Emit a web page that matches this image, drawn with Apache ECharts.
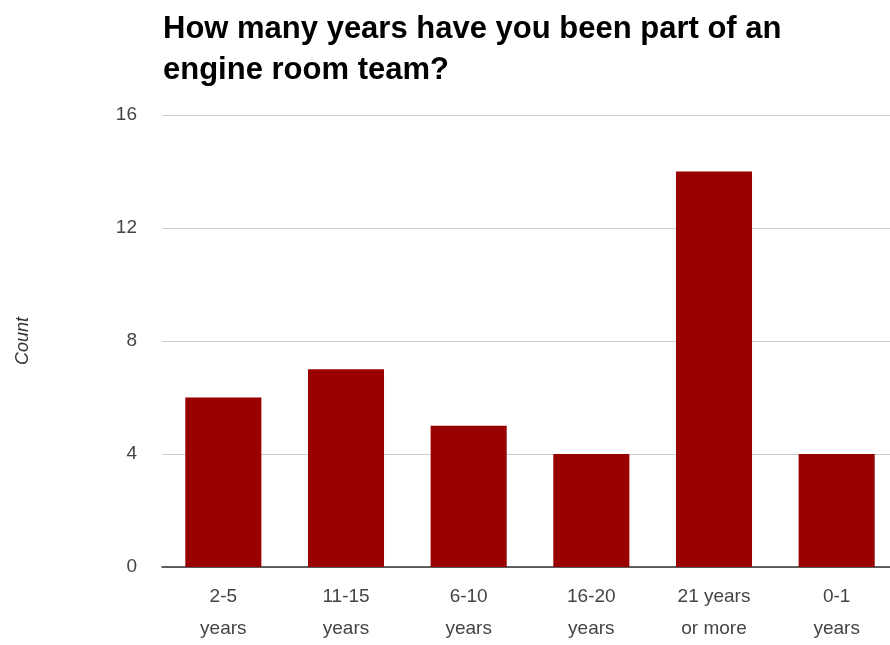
<!DOCTYPE html>
<html><head><meta charset="utf-8">
<script src="https://cdn.jsdelivr.net/npm/echarts@6/dist/echarts.min.js"></script>
<style>html,body{margin:0;padding:0;background:#fff;overflow:hidden}#c{width:898px;height:645px}</style>
</head><body><div id="c"></div>
<script>
const categories = ["2-5\nyears", "11-15\nyears", "6-10\nyears", "16-20\nyears", "21 years\nor more", "0-1\nyears"];
const counts = [6, 7, 5, 4, 14, 4];
const yTicks = [0, 4, 8, 12, 16];

const chart = echarts.init(document.getElementById('c'), null, {renderer: 'canvas'});
chart.setOption({
  animation: false,
  backgroundColor: '#fff',
  title: {
    text: 'How many years have you been part of an\nengine room team?',
    left: 158, top: 4,
    textStyle: {fontFamily: 'Liberation Sans, Arial', fontWeight: 'bold', fontSize: 31, color: '#000', lineHeight: 41}
  },
  grid: {left: 162, right: 0, top: 115, bottom: 78},
  xAxis: {
    type: 'category', data: categories,
    axisLine: {lineStyle: {color: '#333', width: 1.5}},
    axisTick: {show: false},
    axisLabel: {fontFamily: 'Liberation Sans, Arial', fontSize: 19, color: '#444', lineHeight: 32, margin: 14, interval: 0}
  },
  yAxis: {
    type: 'value', min: yTicks[0], max: yTicks[yTicks.length - 1], interval: 4,
    name: 'Count', nameLocation: 'middle', nameGap: 130, nameRotate: 90,
    nameTextStyle: {fontFamily: 'Liberation Sans, Arial', fontStyle: 'italic', fontSize: 18, color: '#333'},
    axisLine: {show: false}, axisTick: {show: false},
    splitLine: {lineStyle: {color: '#ccc', width: 1}},
    axisLabel: {fontFamily: 'Liberation Sans, Arial', fontSize: 19, color: '#444', margin: 25}
  },
  series: [{
    type: 'bar', data: counts, barWidth: '62%',
    itemStyle: {color: '#990000'}
  }]
});
</script></body></html>
